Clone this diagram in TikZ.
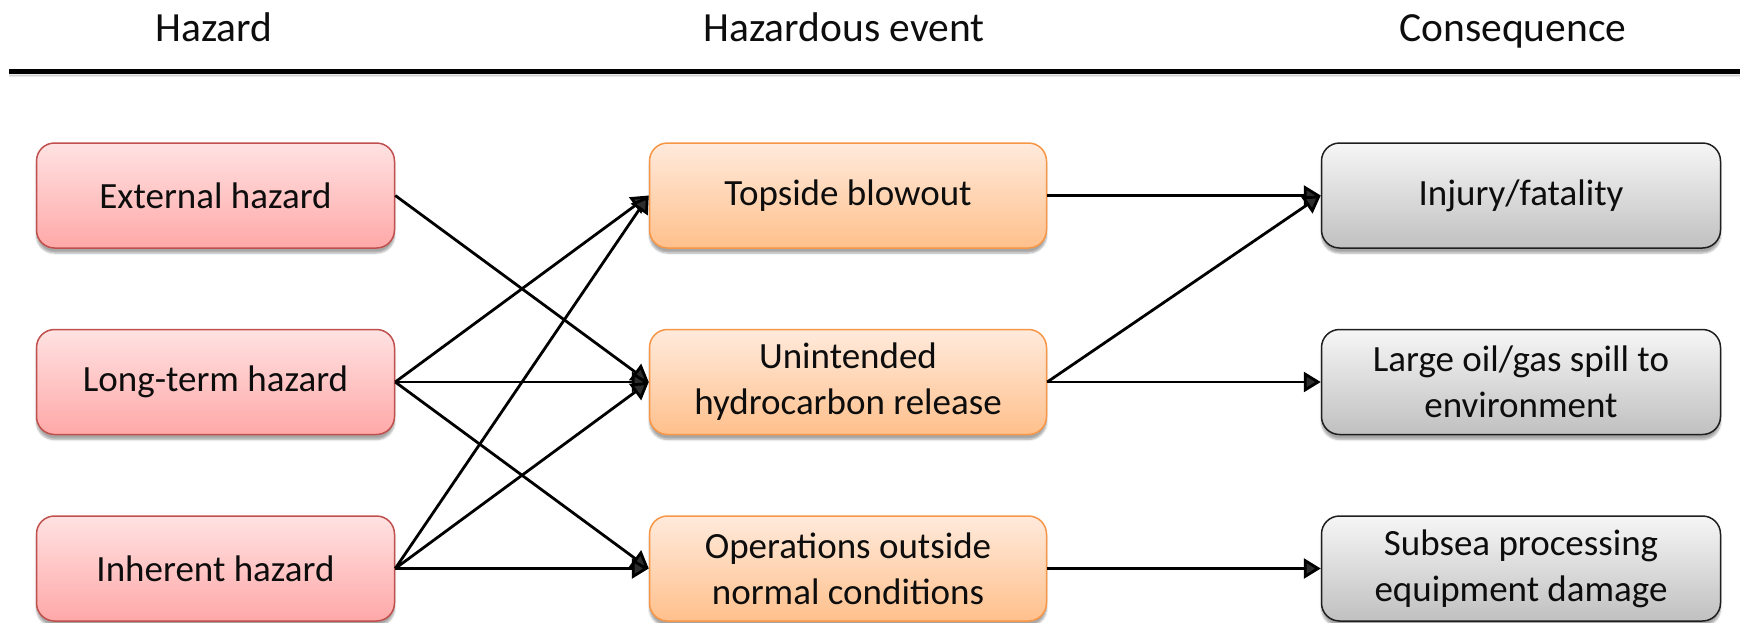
\documentclass[tikz,border=0pt]{standalone}
\usepackage{fontspec}
\setmainfont{Carlito}
\usetikzlibrary{arrows.meta,shadows.blur}
\definecolor{hazline}{RGB}{192,80,77}
\definecolor{haztop}{RGB}{255,226,226}
\definecolor{hazbot}{RGB}{255,168,168}
\definecolor{evline}{RGB}{247,150,70}
\definecolor{evtop}{RGB}{255,234,220}
\definecolor{evbot}{RGB}{255,192,140}
\definecolor{cqline}{RGB}{30,30,30}
\definecolor{cqtop}{RGB}{246,246,246}
\definecolor{cqbot}{RGB}{192,192,192}
\begin{document}
\begin{tikzpicture}[x=1pt,y=-1pt,
  txt/.style={font=\fontsize{37}{46}\selectfont, text=black!95},
  head/.style={font=\fontsize{41.5}{50}\selectfont, text=black!95, anchor=base},
  box/.style={txt, rounded corners=18pt, minimum height=105pt, align=center,
    line width=1.5pt, inner sep=0pt,
    blur shadow={shadow xshift=0pt, shadow yshift=-5pt, shadow blur steps=6, shadow opacity=35}},
  hazbox/.style={box, draw=hazline, top color=haztop, bottom color=hazbot, minimum width=358pt},
  evbox/.style={box, draw=evline, top color=evtop, bottom color=evbot, minimum width=397pt},
  cqbox/.style={box, draw=cqline, top color=cqtop, bottom color=cqbot, minimum width=399pt},
  link/.style={line width=2.8pt, -{Triangle[length=17pt,width=20pt]}}
]
\useasboundingbox (0,0) rectangle (1740,622);

% column headings and rule
\node[head] (hd1) at (214,41) {Hazard};
\node[head] (hd2) at (844,41) {Hazardous event};
\node[head] (hd3) at (1513,41) {Consequence};
\coordinate (ruleL) at (9,71.5);
\coordinate (ruleR) at (1740,71.5);
\draw[line width=5pt, blur shadow={shadow xshift=0pt, shadow yshift=-4pt, shadow blur steps=6, shadow opacity=35}] (ruleL) -- (ruleR);

% hazards
\node[hazbox] (ext) at (215.5,195.5) {External hazard};
\node[hazbox] (lt)  at (215.5,382) {Long-term hazard};
\node[hazbox] (inh) at (215.5,568.5) {Inherent hazard};

% hazardous events
\node[evbox] (tb)  at (848,195.5) {Topside blowout};
\node[evbox] (uhr) at (848,382) {Unintended\\hydrocarbon release};
\node[evbox] (ono) at (848,568.5) {Operations outside\\normal conditions};

% consequences
\node[cqbox] (inj) at (1521,195.5) {Injury/fatality};
\node[cqbox] (spill) at (1521,382) {Large oil/gas spill to\\environment};
\node[cqbox] (dmg) at (1521,568.5) {Subsea processing\\equipment damage};

% hazard -> event
\draw[link] (ext.east) -- (uhr.west);
\draw[link] (lt.east) -- (tb.west);
\draw[link] (lt.east) -- (uhr.west);
\draw[link] (lt.east) -- (ono.west);
\draw[link] (inh.east) -- (tb.west);
\draw[link] (inh.east) -- (uhr.west);
\draw[link] (inh.east) -- (ono.west);

% event -> consequence
\draw[link] (tb.east) -- (inj.west);
\draw[link] (uhr.east) -- (inj.west);
\draw[link] (uhr.east) -- (spill.west);
\draw[link] (ono.east) -- (dmg.west);
\end{tikzpicture}
\end{document}
